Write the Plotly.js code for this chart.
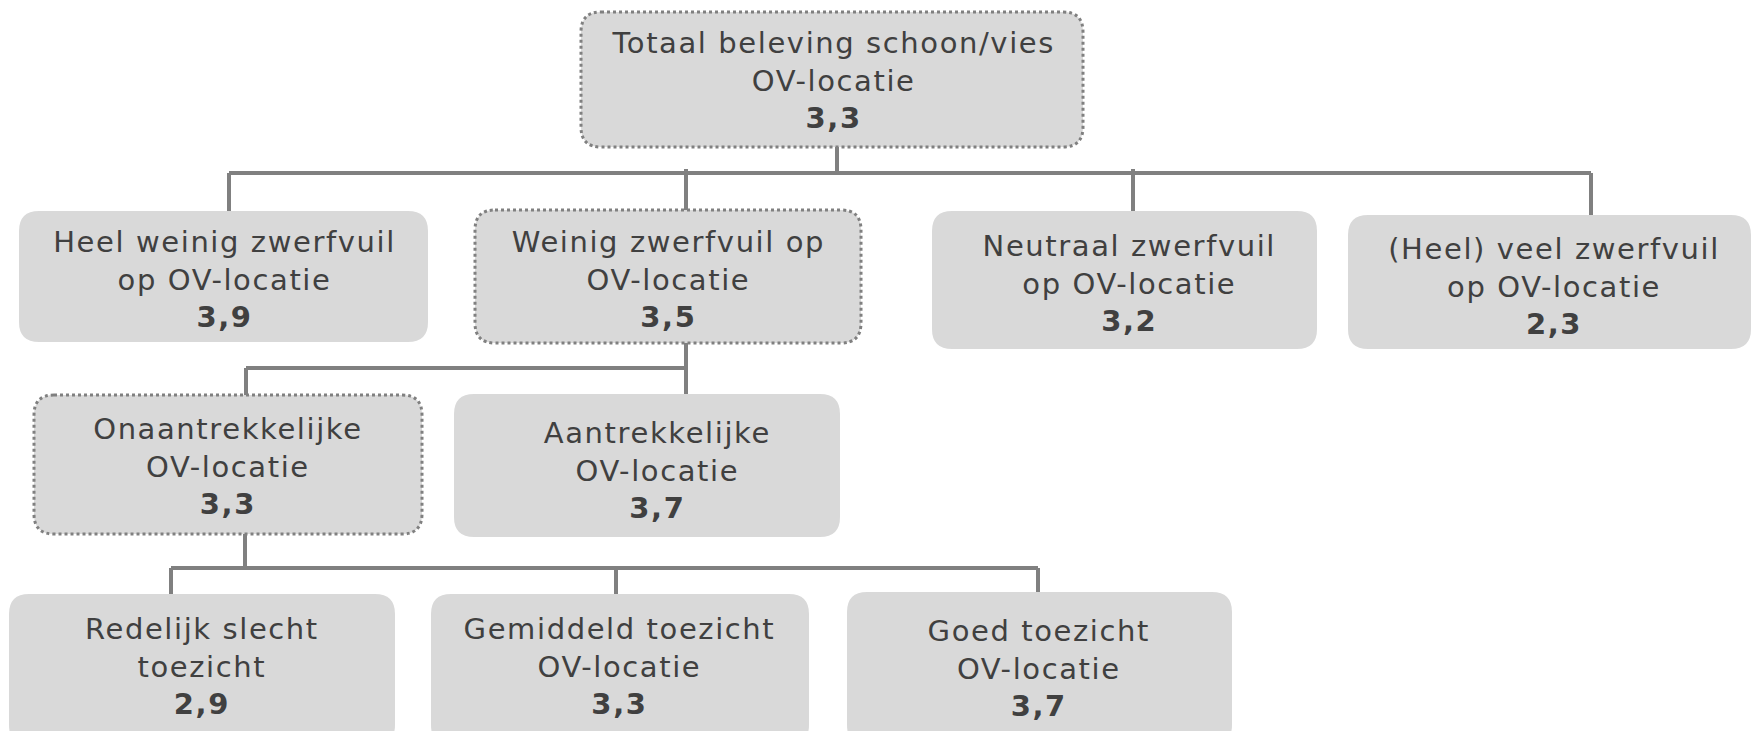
<!DOCTYPE html>
<html>
<head>
<meta charset="utf-8">
<script src="https://cdn.plot.ly/plotly-3.0.1.min.js"></script>
<style>
html,body{margin:0;padding:0;background:#fff;}
#chart{width:1754px;height:731px;}
#chart .annotation-text{letter-spacing:1.6px;}
</style>
</head>
<body>
<div id="chart"></div>
<script>
// ---- data ----
const nodeLabels = [
  "Totaal beleving schoon/vies<br>OV-locatie",
  "Heel weinig zwerfvuil<br>op OV-locatie",
  "Weinig zwerfvuil op<br>OV-locatie",
  "Neutraal zwerfvuil<br>op OV-locatie",
  "(Heel) veel zwerfvuil<br>op OV-locatie",
  "Onaantrekkelijke<br>OV-locatie",
  "Aantrekkelijke<br>OV-locatie",
  "Redelijk slecht<br>toezicht",
  "Gemiddeld toezicht<br>OV-locatie",
  "Goed toezicht<br>OV-locatie"
];
const nodeValues = [3.3, 3.9, 3.5, 3.2, 2.3, 3.3, 3.7, 2.9, 3.3, 3.7];
const nodeParent = [-1, 0, 0, 0, 0, 2, 2, 5, 5, 5];
const nodeSplit = [true, false, true, false, false, true, false, false, false, false];

// ---- layout (pixel geometry in axis units) ----
const boxes = [
  [581, 1083, 12, 147],
  [19, 428, 211, 342],
  [475, 861, 210, 343],
  [932, 1317, 211, 349],
  [1348, 1751, 215, 349],
  [34, 422, 395, 534],
  [454, 840, 394, 537],
  [9, 395, 594, 745],
  [431, 809, 594, 745],
  [847, 1232, 592, 745]
];
const textPos = [
  [833, 80], [224, 279], [668, 279], [1129, 283], [1554, 286],
  [228, 466], [657, 470], [202, 666], [619, 666], [1039, 668]
];
const connectors = [
  [[837,147],[837,173]], [[229,173],[1591,173]],
  [[229,173],[229,211]], [[686,169],[686,210]], [[1133,169],[1133,211]], [[1591,173],[1591,215]],
  [[686,343],[686,394]], [[246,368],[688,368]], [[246,368],[246,395]],
  [[245,534],[245,568]], [[171,568],[1038,568]],
  [[171,568],[171,594]], [[616,568],[616,594]], [[1038,568],[1038,592]]
];

function rr(x0, x1, y0, y1, r) {
  return `M ${x0+r},${y0} L ${x1-r},${y0} Q ${x1},${y0} ${x1},${y0+r} L ${x1},${y1-r} Q ${x1},${y1} ${x1-r},${y1} L ${x0+r},${y1} Q ${x0},${y1} ${x0},${y1-r} L ${x0},${y0+r} Q ${x0},${y0} ${x0+r},${y0} Z`;
}

const shapes = [];
connectors.forEach(c => {
  shapes.push({type:'line', xref:'x', yref:'y', x0:c[0][0], y0:c[0][1], x1:c[1][0], y1:c[1][1],
    line:{color:'#808080', width:4}, layer:'above'});
});
boxes.forEach((b, i) => {
  shapes.push({type:'path', xref:'x', yref:'y', path: rr(b[0], b[1], b[2], b[3], 20),
    fillcolor:'#d9d9d9',
    line: nodeSplit[i] ? {color:'#808080', width:3, dash:'dot'} : {width:0, color:'rgba(0,0,0,0)'},
    layer:'above'});
});

const annotations = nodeLabels.map((lab, i) => ({
  xref:'x', yref:'y', x:textPos[i][0], y:textPos[i][1],
  text: lab + '<br><b>' + nodeValues[i].toFixed(1).replace('.', ',') + '</b>',
  showarrow:false, xanchor:'center', yanchor:'middle', align:'center',
  font:{family:'DejaVu Sans, Verdana, sans-serif', size:29, color:'#404040'}
}));

const layout = {
  width:1754, height:731,
  margin:{l:0, r:0, t:0, b:0},
  paper_bgcolor:'#ffffff', plot_bgcolor:'#ffffff',
  xaxis:{range:[0,1754], visible:false, fixedrange:true},
  yaxis:{range:[731,0], visible:false, fixedrange:true},
  showlegend:false,
  shapes:shapes,
  annotations:annotations
};

Plotly.newPlot('chart', [{x:[], y:[], type:'scatter', hoverinfo:'skip'}], layout, {staticPlot:true});
</script>
</body>
</html>
